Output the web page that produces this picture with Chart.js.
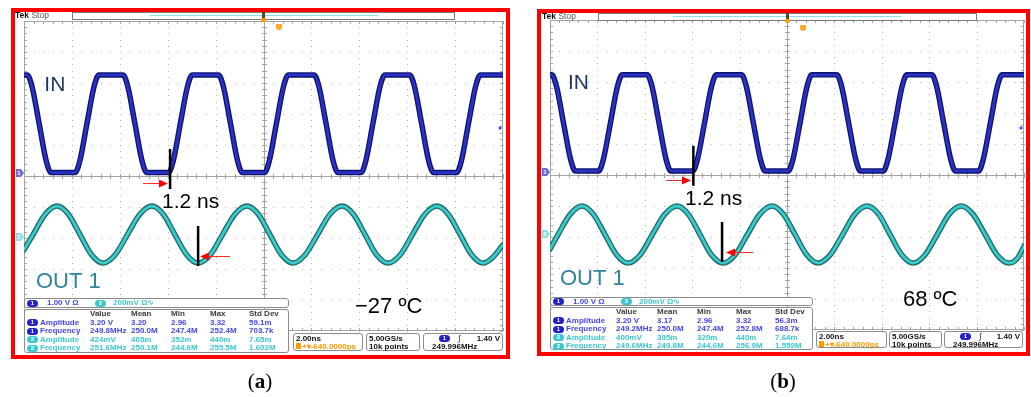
<!DOCTYPE html>
<html><head><meta charset="utf-8">
<script src="https://cdn.jsdelivr.net/npm/chart.js@4.4.1/dist/chart.umd.min.js"></script>
<style>
html,body{margin:0;padding:0;background:#fff;}
#page{position:relative;width:1031px;height:397px;overflow:hidden;background:#fff;}
#page canvas{position:absolute;top:0;}
.abs{position:absolute;}
.frame{position:absolute;box-sizing:border-box;border:4px solid #ff0000;}
.box{position:absolute;box-sizing:border-box;border:1px solid #8c8c8c;border-radius:3px;background:#fff;}
.t{position:absolute;white-space:nowrap;font-family:"Liberation Sans",Arial,sans-serif;font-weight:bold;font-size:8px;line-height:8px;}
.pill{position:absolute;width:11px;height:7px;border-radius:4px;color:#fff;font-family:"Liberation Sans",Arial,sans-serif;font-size:6px;line-height:7px;text-align:center;font-weight:bold;}
.cap{position:absolute;font-family:"Liberation Serif","Times New Roman",serif;font-size:21px;line-height:22px;transform:translateX(-50%);white-space:nowrap;color:#000;}
</style></head>
<body><div id="page">
<canvas id="ca" width="520" height="397" style="left:0;width:520px;height:397px"></canvas>
<canvas id="cb" width="511" height="397" style="left:520px;width:511px;height:397px"></canvas>
</div>
<script>
// ---------------- data (time in ns, amplitude in screen divisions) ----------------
const inTimesA = [-10,-9.87,-9.67,-9.37,-9.07,-8.87,-7.87,-7.67,-7.37,-7.07,-6.87,-5.87,-5.67,-5.37,-5.07,-4.87,-3.97,-3.77,-3.47,-3.17,-2.97,-1.88,-1.68,-1.38,-1.08,-0.88,0.04,0.24,0.54,0.84,1.04,2.11,2.31,2.61,2.91,3.11,4.07,4.27,4.57,4.87,5.07,6.10,6.30,6.60,6.90,7.10,8.06,8.26,8.56,8.86,9.06,10];
const inValsA  = [3.26,3.26,2.90,1.70,0.48,0.11,0.11,0.48,1.70,2.90,3.26,3.26,2.90,1.70,0.48,0.11,0.11,0.48,1.70,2.90,3.26,3.26,2.90,1.70,0.48,0.11,0.11,0.48,1.70,2.90,3.26,3.26,2.90,1.70,0.48,0.11,0.11,0.48,1.70,2.90,3.26,3.26,2.90,1.70,0.48,0.11,0.11,0.48,1.70,2.90,3.26,3.26];
const outTimesA = [-10,-9.62,-9.12,-8.62,-8.14,-7.66,-7.18,-6.70,-6.19,-5.68,-5.17,-4.66,-4.18,-3.70,-3.21,-2.73,-2.22,-1.71,-1.20,-0.69,-0.21,0.27,0.75,1.23,1.74,2.26,2.77,3.28,3.76,4.24,4.72,5.20,5.71,6.22,6.73,7.24,7.72,8.21,8.69,9.17,9.58,10];
const outValsA  = [-2.38,-1.89,-1.24,-0.97,-1.24,-1.89,-2.54,-2.81,-2.54,-1.89,-1.24,-0.97,-1.24,-1.89,-2.54,-2.81,-2.54,-1.89,-1.24,-0.97,-1.24,-1.89,-2.54,-2.81,-2.54,-1.89,-1.24,-0.97,-1.24,-1.89,-2.54,-2.81,-2.54,-1.89,-1.24,-0.97,-1.24,-1.89,-2.54,-2.81,-2.62,-2.22];

const inTimesB = [-10,-9.93,-9.73,-9.43,-9.13,-8.93,-7.95,-7.75,-7.45,-7.15,-6.95,-5.90,-5.70,-5.40,-5.10,-4.90,-3.98,-3.78,-3.48,-3.18,-2.98,-1.92,-1.72,-1.42,-1.12,-0.92,0.05,0.25,0.55,0.85,1.05,2.10,2.30,2.60,2.90,3.10,4.06,4.26,4.56,4.86,5.06,6.11,6.31,6.61,6.91,7.11,8.08,8.28,8.58,8.88,9.08,10];
const inValsB  = [3.23,3.23,2.87,1.68,0.50,0.13,0.13,0.50,1.68,2.87,3.23,3.23,2.87,1.68,0.50,0.13,0.13,0.50,1.68,2.87,3.23,3.23,2.87,1.68,0.50,0.13,0.13,0.50,1.68,2.87,3.23,3.23,2.87,1.68,0.50,0.13,0.13,0.50,1.68,2.87,3.23,3.23,2.87,1.68,0.50,0.13,0.13,0.50,1.68,2.87,3.23,3.23];
const outTimesB = [-10,-9.66,-9.15,-8.65,-8.17,-7.68,-7.19,-6.71,-6.19,-5.68,-5.16,-4.64,-4.16,-3.67,-3.19,-2.70,-2.18,-1.67,-1.15,-0.63,-0.15,0.34,0.83,1.31,1.83,2.35,2.86,3.38,3.87,4.35,4.84,5.32,5.83,6.34,6.84,7.35,7.85,8.36,8.86,9.36,9.70,10];
const outValsB  = [-2.39,-1.92,-1.27,-1.00,-1.27,-1.92,-2.57,-2.84,-2.57,-1.92,-1.27,-1.00,-1.27,-1.92,-2.57,-2.84,-2.57,-1.92,-1.27,-1.00,-1.27,-1.92,-2.57,-2.84,-2.57,-1.92,-1.27,-1.00,-1.27,-1.92,-2.57,-2.84,-2.57,-1.92,-1.27,-1.00,-1.27,-1.92,-2.57,-2.84,-2.71,-2.30];

// measurement readouts (text)
const measHeaders = ['Value','Mean','Min','Max','Std Dev'];
const measNames = [[1,'Amplitude'],[1,'Frequency'],[2,'Amplitude'],[2,'Frequency']];
const measValsA = [
  ['3.20 V','3.20','2.96','3.32','59.1m'],
  ['249.8MHz','250.0M','247.4M','252.4M','703.7k'],
  ['424mV','405m','352m','440m','7.65m'],
  ['251.6MHz','250.1M','244.6M','255.5M','1.602M']];
const measValsB = [
  ['3.20 V','3.17','2.96','3.32','56.3m'],
  ['249.2MHz','250.0M','247.4M','252.8M','688.7k'],
  ['400mV','395m','320m','440m','7.64m'],
  ['249.6MHz','249.8M','244.6M','256.9M','1.559M']];
const chScales = ['1.00 V \u03A9','200mV \u03A9\u223F'];
const horizText = ['2.00ns','+\u25BE-640.0000ps'];
const acqText = ['5.00GS/s','10k points'];
const trigText = ['1.40 V','249.996MHz'];
const temps = ['\u221227 \u00BAC','68 \u00BAC'];
const captions = ['a','b'];

// scale (graticule) definition
const X_MIN=-10, X_MAX=10, X_STEP=2, Y_MIN=-5, Y_MAX=5, Y_STEP=1, MINOR=5;

// ---------------- annotations (data coordinates) ----------------
const annA = {
  markers:[{x:-3.90,y0:0.87,y1:-0.42},{x:-2.73,y0:-1.61,y1:-2.90}],
  arrows:[{x0:-5.03,x1:-3.99,y:-0.23},{x0:-1.40,x1:-2.65,y:-2.58}],
  labels:[{text:'IN',x:-9.15,y:2.97,color:'#1f3864',size:21},
          {text:'OUT 1',x:-9.50,y:-3.35,color:'#31849b',size:22},
          {text:'1.2 ns',x:-4.24,y:-0.79,color:'#000',size:21},
          {text:temps[0],x:3.82,y:-4.16,color:'#000',size:22}],
  tags:[{y:0.11,text:'1',color:'#6b6bd6'},{y:-1.97,text:'2',color:'#8adede'}],
  trig:1.55
};
const annB = {
  markers:[{x:-3.95,y0:0.94,y1:-0.35},{x:-2.74,y0:-1.52,y1:-2.81}],
  arrows:[{x0:-5.10,x1:-4.05,y:-0.16},{x0:-1.43,x1:-2.57,y:-2.48}],
  labels:[{text:'IN',x:-9.24,y:3.03,color:'#1f3864',size:21},
          {text:'OUT 1',x:-9.58,y:-3.29,color:'#31849b',size:22},
          {text:'1.2 ns',x:-4.30,y:-0.73,color:'#000',size:21},
          {text:temps[1],x:4.89,y:-3.98,color:'#000',size:22}],
  tags:[{y:0.10,text:'1',color:'#6b6bd6'},{y:-1.90,text:'2',color:'#8adede'}],
  trig:1.52
};

// ---------------- layout ----------------
const panelA = {pad:{left:24,top:21,right:17,bottom:66}, frame:[11,8,499,351],
  tek:[15,11], bar:[72,12,383], cyan:[150,15,228], trigX:263, u:[276,24],
  ch:[24,298,265,10], table:[24,309,265,44], boxes:[[293,70],[366,54],[423,80]], boxT:333, boxH:18, cap:[260,370]};
const panelB = {pad:{left:30,top:20,right:7,bottom:67}, frame:[537,9,493,347],
  tek:[542,12], bar:[598,13,379], cyan:[673,16,228], trigX:787, u:[800,25],
  ch:[550,297,263,9], table:[550,307,263,43], boxes:[[816,71],[889,53],[944,79]], boxT:331, boxH:17, cap:[783,370]};

const CH1='#4646e6', CH2='#3cc6d0', CH1P='#2222c8', CH2P='#3cc6d0', ORANGE='#ff9a00';

// ---------------- chart drawing ----------------
function drawGrid(chart){
  const {ctx, chartArea:a, scales:{x,y}} = chart;
  const X=v=>Math.round(x.getPixelForValue(v)), Y=v=>Math.round(y.getPixelForValue(v));
  const mx=[], my=[];
  for(let i=0;i<=Math.round((X_MAX-X_MIN)/X_STEP)*MINOR;i++) mx.push(X_MIN+i*X_STEP/MINOR);
  for(let i=0;i<=Math.round((Y_MAX-Y_MIN)/Y_STEP)*MINOR;i++) my.push(Y_MIN+i*Y_STEP/MINOR);
  ctx.save();
  ctx.fillStyle='#b6b6b6';
  for(let v=X_MIN+X_STEP; v<X_MAX-1e-9; v+=X_STEP){ if(Math.abs(v)<1e-9) continue; const px=X(v); my.forEach(w=>ctx.fillRect(px,Y(w),1,1)); }
  for(let v=Y_MIN+Y_STEP; v<Y_MAX-1e-9; v+=Y_STEP){ if(Math.abs(v)<1e-9) continue; const py=Y(v); mx.forEach(w=>ctx.fillRect(X(w),py,1,1)); }
  ctx.fillStyle='#a4a4a4';
  const cx=X(0), cy=Y(0);
  ctx.fillRect(cx,a.top,1,a.bottom-a.top);
  ctx.fillRect(a.left,cy,a.right-a.left,1);
  my.forEach(w=>ctx.fillRect(cx-2,Y(w),5,1));
  mx.forEach(w=>ctx.fillRect(X(w),cy-2,1,5));
  ctx.fillRect(a.left,a.top,1,a.bottom-a.top);
  ctx.fillRect(a.right-1,a.top,1,a.bottom-a.top);
  ctx.fillRect(a.left,a.top,a.right-a.left,1);
  ctx.fillRect(a.left,a.bottom-1,a.right-a.left,1);
  my.forEach(w=>{ctx.fillRect(a.left,Y(w),3,1);ctx.fillRect(a.right-3,Y(w),3,1);});
  mx.forEach(w=>{ctx.fillRect(X(w),a.top,1,3);ctx.fillRect(X(w),a.bottom-3,1,3);});
  ctx.restore();
}
function drawAnn(chart, ann){
  const {ctx, chartArea:a, scales:{x,y}} = chart;
  ctx.save();
  ann.arrows.forEach(r=>{
    const x0=x.getPixelForValue(r.x0), x1=x.getPixelForValue(r.x1), py=Math.round(y.getPixelForValue(r.y))+0.5;
    const d=Math.sign(x1-x0), head=9;
    ctx.strokeStyle='#ff2a2a'; ctx.lineWidth=1;
    ctx.beginPath(); ctx.moveTo(x0,py); ctx.lineTo(x1-d*head,py); ctx.stroke();
    ctx.fillStyle='#ff0000'; ctx.beginPath(); ctx.moveTo(x1,py); ctx.lineTo(x1-d*head,py-4); ctx.lineTo(x1-d*head,py+4); ctx.closePath(); ctx.fill();
  });
  ann.labels.forEach(l=>{
    ctx.font=l.size+'px "Liberation Sans", Arial, sans-serif';
    ctx.fillStyle=l.color; ctx.textAlign='left'; ctx.textBaseline='alphabetic';
    ctx.fillText(l.text, x.getPixelForValue(l.x), y.getPixelForValue(l.y)+0.36*l.size);
  });
  ann.tags.forEach(t=>{
    const py=Math.round(y.getPixelForValue(t.y)), lx=a.left;
    ctx.fillStyle=t.color; ctx.beginPath();
    ctx.moveTo(lx-8,py-4); ctx.lineTo(lx-3,py-4); ctx.lineTo(lx,py); ctx.lineTo(lx-3,py+4); ctx.lineTo(lx-8,py+4); ctx.closePath(); ctx.fill();
    ctx.fillStyle='#fff'; ctx.font='bold 6px "Liberation Sans", Arial'; ctx.textAlign='center'; ctx.textBaseline='middle';
    ctx.fillText(t.text, lx-5, py);
  });
  const ty=Math.round(y.getPixelForValue(ann.trig)), rx=a.right-3;
  ctx.fillStyle='#3a5ad8'; ctx.beginPath(); ctx.moveTo(rx-2,ty); ctx.lineTo(rx,ty-2); ctx.lineTo(rx+2,ty); ctx.lineTo(rx,ty+2); ctx.closePath(); ctx.fill();
  ctx.restore();
}
function makeChart(id, p, inT, inV, outT, outV, ann){
  const pts=(T,V)=>T.map((t,i)=>({x:t,y:V[i]}));
  const base={pointRadius:0, pointHoverRadius:0, fill:false, cubicInterpolationMode:'monotone', borderJoinStyle:'round', borderCapStyle:'round'};
  const mark=m=>({data:[{x:m.x,y:m.y0},{x:m.x,y:m.y1}], borderColor:'#000', borderWidth:2.5, pointRadius:0, tension:0, cubicInterpolationMode:'default', fill:false, order:0});
  return new Chart(document.getElementById(id), {
    type:'line',
    data:{datasets:[
      {...base, data:pts(outT,outV), borderColor:'#1d6b6f', borderWidth:5.5, order:6},
      {...base, data:pts(outT,outV), borderColor:'#3ccac8', borderWidth:2.8, order:5},
      {...base, data:pts(inT,inV), borderColor:'#10146c', borderWidth:5.5, order:4},
      {...base, data:pts(inT,inV), borderColor:'#2a32c6', borderWidth:2.8, order:3},
      ...ann.markers.map(mark)
    ]},
    options:{responsive:false, animation:false, devicePixelRatio:1, events:[],
      layout:{padding:p.pad},
      plugins:{legend:{display:false}, tooltip:{enabled:false}},
      scales:{x:{type:'linear',min:X_MIN,max:X_MAX,display:false}, y:{type:'linear',min:Y_MIN,max:Y_MAX,display:false}}},
    plugins:[{id:'tek'+id, beforeDatasetsDraw:c=>drawGrid(c), afterDatasetsDraw:c=>drawAnn(c,ann)}]
  });
}

// ---------------- HTML overlays ----------------
const page=document.getElementById('page');
function add(cls,l,t,w,h,html,st){const d=document.createElement('div');d.className=cls;d.style.left=l+'px';d.style.top=t+'px';
  if(w!=null)d.style.width=w+'px'; if(h!=null)d.style.height=h+'px'; if(html!=null)d.innerHTML=html; if(st)Object.assign(d.style,st); page.appendChild(d); return d;}
function overlays(p, vals, cap){
  add('t',p.tek[0],p.tek[1],null,null,'<span style="color:#111">Tek</span><span style="color:#555;font-weight:normal"> Stop</span>',{fontSize:'8.5px',lineHeight:'9px'});
  add('box',p.bar[0],p.bar[1],p.bar[2],8,null,{borderRadius:'0',borderColor:'#7a7a7a'});
  add('abs',p.cyan[0],p.cyan[1],p.cyan[2],1,null,{background:'#86e4ea'});
  add('abs',p.trigX-1,p.bar[1],3,8,null,{background:'#5c4a26'});
  add('abs',p.trigX-2,p.bar[1]+6,5,4,null,{background:ORANGE,borderRadius:'2px'});
  add('abs',p.u[0],p.u[1],6,6,null,{background:'#ffa822',borderRadius:'1px 1px 3px 3px'});
  // channel scale box
  const [cl,ct,cw,chh]=p.ch; const cmid=ct+chh/2;
  add('box',cl,ct,cw,chh);
  add('pill',cl+3,cmid-3.5,null,null,'1',{background:CH1P});
  add('t',cl+23,cmid-4,null,null,chScales[0],{color:CH1});
  add('pill',cl+71,cmid-3.5,null,null,'2',{background:CH2P});
  add('t',cl+89,cmid-4,null,null,chScales[1],{color:CH2});
  // measurement table
  const [tl,tt,tw,th]=p.table;
  add('box',tl,tt,tw,th);
  const cols=[66,107,147,186,225], rowsY=[5,13.5,22,30.5,39];
  measHeaders.forEach((h,i)=>add('t',tl+cols[i],tt+rowsY[0]-4,null,null,h,{color:'#3a3a3a'}));
  measNames.forEach((r,j)=>{
    const cy=tt+rowsY[j+1], col=r[0]===1?CH1:CH2;
    add('pill',tl+3,cy-3.5,null,null,String(r[0]),{background:r[0]===1?CH1P:CH2P});
    add('t',tl+16,cy-4,null,null,r[1],{color:col});
    vals[j].forEach((v,i)=>add('t',tl+cols[i],cy-4,null,null,v,{color:col}));
  });
  // bottom boxes
  const bt=p.boxT, bh=p.boxH;
  p.boxes.forEach(b=>add('box',b[0],bt,b[1],bh));
  let [l1]=p.boxes[0];
  add('t',l1+3,bt+2,null,null,horizText[0],{color:'#111'});
  add('abs',l1+3,bt+10,5,6,null,{background:ORANGE});
  add('t',l1+9,bt+10,null,null,horizText[1],{color:ORANGE});
  let [l2]=p.boxes[1];
  add('t',l2+3,bt+2,null,null,acqText[0],{color:'#111'});
  add('t',l2+3,bt+10,null,null,acqText[1],{color:'#111'});
  let [l3,w3]=p.boxes[2];
  add('pill',l3+16,bt+2,null,null,'1',{background:CH1P});
  add('t',l3+35,bt+2,null,null,'\u222B',{color:'#111',fontWeight:'normal'});
  add('t',l3+w3-3,bt+2,null,null,trigText[0],{color:'#111',transform:'translateX(-100%)'});
  add('t',l3+9,bt+10,null,null,trigText[1],{color:'#111'});
  // frame + caption
  add('frame',p.frame[0],p.frame[1],p.frame[2],p.frame[3]);
  add('cap',p.cap[0],p.cap[1],null,null,'(<b>'+cap+'</b>)');
}

makeChart('ca', panelA, inTimesA, inValsA, outTimesA, outValsA, annA);
makeChart('cb', panelB, inTimesB, inValsB, outTimesB, outValsB, annB);
overlays(panelA, measValsA, captions[0]);
overlays(panelB, measValsB, captions[1]);
</script></body></html>
